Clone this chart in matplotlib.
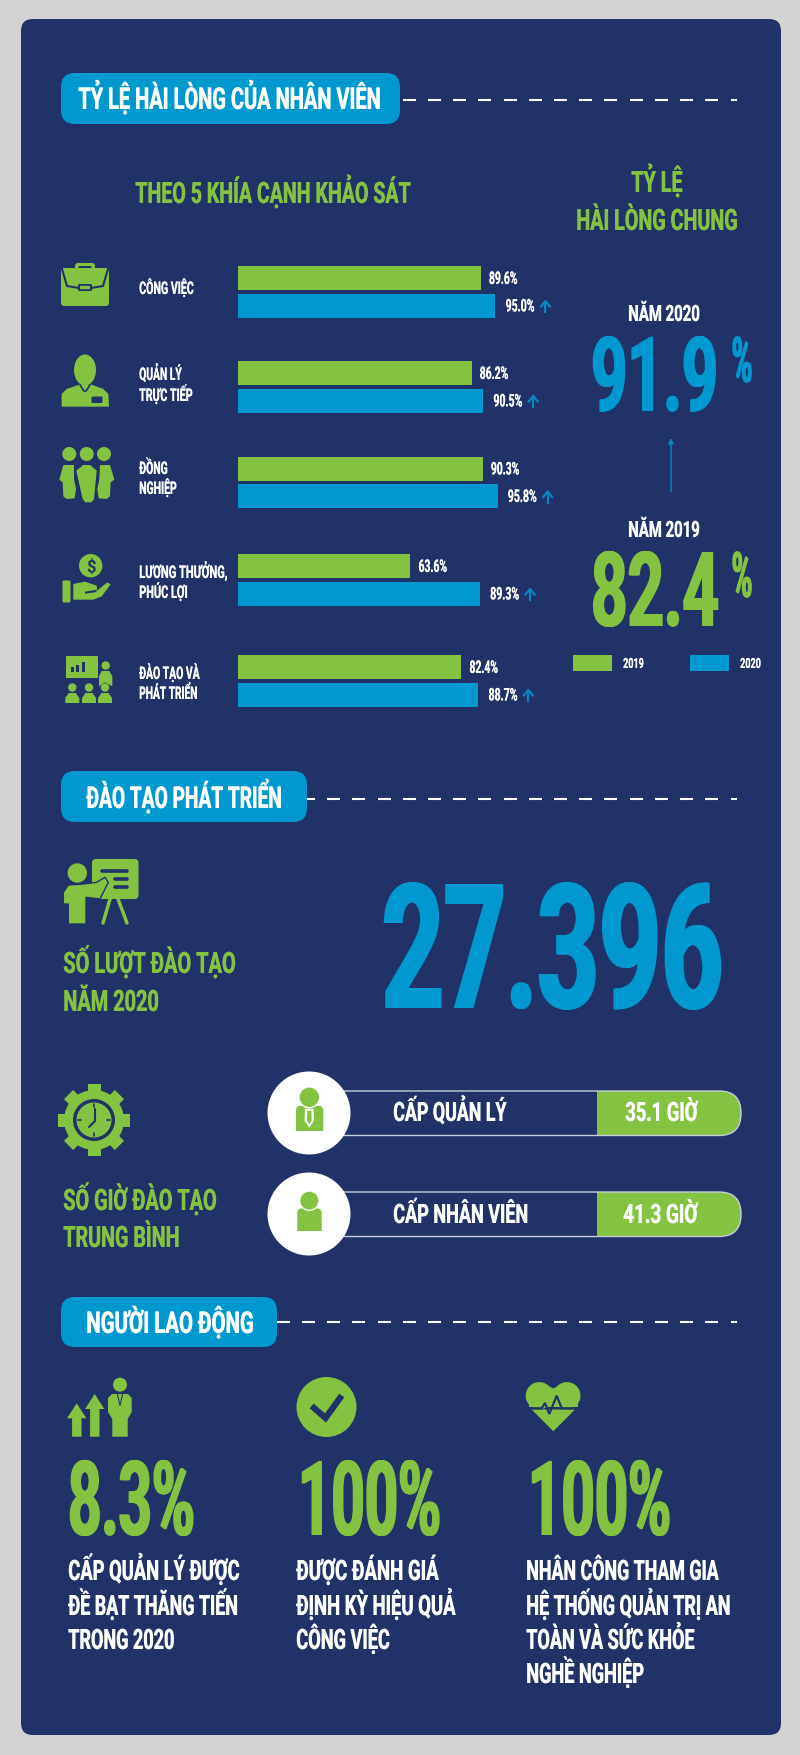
import numpy as np
import matplotlib
matplotlib.use("Agg")
import matplotlib.pyplot as plt
import matplotlib.patheffects as pe
from matplotlib.patches import FancyBboxPatch, Rectangle, Circle, Ellipse, Polygon
from matplotlib.transforms import Affine2D

# colours
GREY = "#d3d3d3"
NAVY = "#203268"
GREEN = "#84c341"
BLUE = "#0099cf"
ARROW = "#0a85c2"
WHITE = "#ffffff"

# data
years = ["2019", "2020"]
score_2019 = [89.6, 86.2, 90.3, 63.6, 82.4]
score_2020 = [95.0, 90.5, 95.8, 89.3, 88.7]
overall_2019 = "82.4"
overall_2020 = "91.9"
trainings = "27.396"
hours_levels = ["CẤP QUẢN LÝ", "CẤP NHÂN VIÊN"]
hours_values = ["35.1 GIỜ", "41.3 GIỜ"]
worker_stats = ["8.3%", "100%", "100%"]

# y centre of each green/blue pair of bars, pixels from the top
row_y = [293, 388, 483.5, 581, 682]

W, H = 800, 1756
fig = plt.figure(figsize=(W / 100, H / 100), dpi=100, facecolor=GREY)
ax = fig.add_axes([0, 0, 1, 1])
ax.set_xlim(0, W)
ax.set_ylim(H, 0)
ax.axis("off")


class TallText(pe.AbstractPathEffect):
    # the original font is much narrower and heavier than anything installed,
    # so the text is set to the right width and stretched up to the right height
    def __init__(self, sy, heavy):
        super().__init__()
        self.sy = sy
        self.heavy = heavy

    def draw_path(self, renderer, gc, tpath, affine, rgbFace=None):
        steps = int(np.ceil(self.heavy)) + 1
        for dx in np.linspace(-self.heavy / 2, self.heavy / 2, steps):
            renderer.draw_path(gc, tpath, Affine2D().scale(1, self.sy) + affine + Affine2D().translate(dx, 0),
                               rgbFace)


def label(s, x0, x1, base, cap, color=WHITE):
    # x0, x1 = left and right edge of the text, base = baseline, cap = cap height
    heavy = cap * 0.03
    size = cap / 0.711 * 0.72
    t = ax.text(x0 + heavy / 2, base, s, color=color, family=["Roboto", "DejaVu Sans"], weight="bold",
                fontsize=size, ha="left", va="baseline", zorder=5)
    natural = t.get_window_extent(fig.canvas.get_renderer()).width
    sx = (x1 - x0 - heavy) / natural
    t.set_fontsize(size * sx)
    t.set_path_effects([TallText(1 / sx, heavy)])
    return t


def header(s, x1, top, bottom, tx0, tx1, base, dash_y):
    ax.add_patch(FancyBboxPatch((61 + 14, top + 14), x1 - 61 - 28, bottom - top - 28,
                                boxstyle="round,pad=14", fc=BLUE, ec="none"))
    label(s, tx0, tx1, base, 21.5)
    for start in np.arange(730.5, x1 - 13, -25.2):
        ax.plot([max(start, x1), min(start + 13, 736.5)], [dash_y, dash_y], color=WHITE,
                lw=1.5, solid_capstyle="butt")


def poly(points, color=GREEN, **kw):
    ax.add_patch(Polygon(points, closed=True, fc=color, ec=kw.pop("ec", "none"), **kw))


def zoomed(points, x0, y0):
    return [(x / 3 + x0, y / 3 + y0) for x, y in points]


def round_box(x0, y0, x1, y1, r, color=GREEN):
    ax.add_patch(FancyBboxPatch((x0 + r, y0 + r), x1 - x0 - 2 * r, y1 - y0 - 2 * r,
                                boxstyle=f"round,pad={r}", fc=color, ec="none"))


def disc(x, y, r, color=GREEN):
    ax.add_patch(Circle((x, y), r, fc=color, ec="none"))


def stroke(xs, ys, lw, color=NAVY):
    ax.plot(xs, ys, color=color, lw=lw, solid_capstyle="round", solid_joinstyle="miter")


def icon_briefcase():
    round_box(75, 264, 95, 273, 3)
    round_box(78.5, 267, 91.5, 273, 1.5, NAVY)
    round_box(61, 269, 109, 307, 3)
    stroke([62, 67, 79], [270, 287, 289], 1.5)
    stroke([108, 103, 91], [270, 287, 289], 1.5)
    round_box(78, 285, 92, 292, 1.5, NAVY)
    round_box(80, 286.8, 90, 290.2, 0.8)


def icon_manager():
    ax.add_patch(Ellipse((85, 371), 22, 31, fc=GREEN, ec="none"))
    poly(zoomed([(35, 458), (35, 420), (50, 405), (88, 392), (125, 392), (160, 405),
                 (175, 420), (177, 458)], 50, 255))
    stroke([80, 84, 86, 90], [386, 392, 392, 386], 1.2)
    round_box(91.5, 397.5, 102.5, 404, 1, NAVY)


def icon_colleagues():
    for x in (69.3, 86.7, 104):
        disc(x, 455, 7)
    poly(zoomed([(79, 95), (100, 78), (120, 78), (140, 95), (132, 180), (124, 190), (106, 190),
                 (98, 180)], 50, 440))
    poly(zoomed([(40, 78), (72, 78), (72, 120), (78, 150), (74, 178), (50, 180), (40, 172),
                 (38, 130), (28, 122)], 50, 440))
    poly(zoomed([(150, 78), (180, 78), (193, 122), (182, 130), (180, 172), (170, 180), (146, 178),
                 (142, 150), (148, 120)], 50, 440))


def icon_hand():
    disc(90.7, 566.7, 11.7)
    ax.text(90.7, 567, "$", color=NAVY, fontsize=12, ha="center", va="center",
            family="Roboto", weight="bold", zorder=5)
    round_box(62.5, 581.5, 70.5, 603.5, 1.5)
    poly(zoomed([(70, 435), (105, 428), (140, 440), (142, 452), (105, 458), (105, 464), (135, 460),
                 (172, 430), (182, 436), (155, 472), (130, 482), (70, 482)], 50, 440))


def icon_training():
    poly(zoomed([(47, 652), (145, 652), (145, 716), (47, 716)], 50, 440))
    for x0, top in ((63, 685), (79, 678), (96, 668)):
        poly(zoomed([(x0, top), (x0 + 8, top), (x0 + 8, 698), (x0, 698)], 50, 440), NAVY)
    disc(105.7, 666.5, 4.2)
    poly(zoomed([(147, 712), (155, 696), (178, 696), (187, 712), (187, 742), (165, 730),
                 (147, 742)], 50, 440))
    for x in (72.3, 89, 105):
        disc(x, 688.5, 4.2)
        poly([(x - 7, 704), (x - 7, 699), (x - 3.5, 694), (x + 3.5, 694), (x + 7, 699),
              (x + 7, 704)])


def icon_presenter():
    disc(77.3, 874, 9.7)
    round_box(92, 860, 138.5, 900, 4)
    for x0, y in ((102, 871.5), (115, 879.5), (115, 888)):
        stroke([x0, 127], [y, y], 2.6)
    poly(zoomed([(40, 165), (40, 130), (55, 108), (100, 105), (140, 100), (165, 85), (175, 100),
                 (150, 150), (108, 145), (108, 225), (55, 225), (55, 165)], 50, 850), ec=NAVY, lw=1)
    stroke([110, 103], [900, 924], 2.5, GREEN)
    stroke([118, 127], [900, 924], 2.5, GREEN)


def icon_gear():
    angles = np.deg2rad(np.arange(0, 360, 45))
    for a in angles:
        x, y = 94 + 31 * np.cos(a), 1121 + 31 * np.sin(a)
        tooth = Rectangle((x - 6.5, y - 5), 13, 10, fc=GREEN, ec="none",
                          transform=Affine2D().rotate_around(x, y, a + np.pi / 2) + ax.transData)
        ax.add_patch(tooth)
    disc(94, 1121, 30)
    disc(94, 1121, 21, NAVY)
    disc(94, 1121, 17.5)
    for a in np.deg2rad(np.arange(0, 360, 90)):
        stroke([94 + 13 * np.cos(a), 94 + 16 * np.cos(a)], [1121 + 13 * np.sin(a), 1121 + 16 * np.sin(a)], 1.2)
    stroke([95, 95, 89], [1110, 1122, 1128], 1.5)


def icon_growth():
    for x, tip, neck in ((76.7, 1404.3, 1419.3), (94.7, 1395, 1410)):
        poly([(x, tip), (x + 9.7, neck), (x + 4.8, neck), (x + 4.8, 1437.7), (x - 4.6, 1437.7),
              (x - 4.6, neck), (x - 9.7, neck)])
    disc(120, 1385.7, 7)
    poly([(112, 1395), (128, 1395), (131.7, 1399), (131.7, 1413), (127.7, 1420), (127.7, 1437.7),
          (112.3, 1437.7), (112.3, 1420), (108, 1413), (108, 1399)])
    ax.plot([117.5, 120, 122.5], [1395.5, 1406.5, 1395.5], color=NAVY, lw=0.8)


def icon_check():
    disc(326.5, 1408, 30)
    ax.plot([314, 325.5, 340], [1409, 1419, 1399], color=NAVY, lw=4.5, solid_joinstyle="miter")


def icon_heart():
    disc(539.3, 1396.7, 13.6)
    disc(566.9, 1396.7, 13.6)
    poly([(529, 1399), (577.5, 1399), (577.5, 1407.5), (529, 1407.5)])
    poly([(553.3, 1389.5), (562, 1385), (562, 1400), (544, 1400), (544, 1385)])
    poly([(531.7, 1410.5), (575, 1410.5), (553.3, 1432.3)])
    ax.plot([524, 541.7, 545, 549.3, 556.7, 561.7, 582], [1409.3, 1409.3, 1404, 1415, 1396.7, 1409.3, 1409.3],
            color=NAVY, lw=1.6, solid_joinstyle="miter")


def icon_pill_person(head_y, head_r, top, bottom, x0, x1, tie):
    round_box(x0, top, x1, bottom + 6, 5)
    ax.add_patch(Rectangle((x0 - 1, bottom), x1 - x0 + 2, 7, fc=WHITE, ec="none"))
    disc(309.3, head_y, head_r + 1.3, WHITE)
    disc(309.3, head_y, head_r)
    if tie:
        poly([(305, top + 3), (313.6, top + 3), (314, bottom - 10), (309.3, bottom - 3), (304.6, bottom - 10)], WHITE)
        poly([(307.3, top + 5), (311.3, top + 5), (311.7, bottom - 10.5), (309.3, bottom - 6.5),
              (306.9, bottom - 10.5)])


# panel
ax.add_patch(FancyBboxPatch((33, 32), 736, 1692, boxstyle="round,pad=12", fc=NAVY, ec="none"))

header("TỶ LỆ HÀI LÒNG CỦA NHÂN VIÊN", 400, 74, 125, 78, 381, 110, 101)
header("ĐÀO TẠO PHÁT TRIỂN", 307, 772, 823, 86, 282, 809, 800)
header("NGƯỜI LAO ĐỘNG", 277, 1298, 1348, 86, 254, 1334, 1323)

label("THEO 5 KHÍA CẠNH KHẢO SÁT", 135, 411, 204, 21, GREEN)
label("TỶ LỆ", 631, 683, 193, 21, GREEN)
label("HÀI LÒNG CHUNG", 576, 738, 231, 21, GREEN)

# bars, x axis is the percentage, y stays in pixels so rows line up with the icons
ax_bar = fig.add_axes([238 / W, 0, 271 / W, 1])
ax_bar.set_xlim(0, 100)
ax_bar.set_ylim(H, 0)
ax_bar.axis("off")
ax_bar.patch.set_alpha(0)
ax_bar.barh([y - 14 for y in row_y], score_2019, height=24, color=GREEN)
ax_bar.barh([y + 13.5 for y in row_y], score_2020, height=24, color=BLUE)


def bar_end(value):
    return ax_bar.transData.transform((value, 0))[0]


for y, a, b in zip(row_y, score_2019, score_2020):
    x = bar_end(a) + 8
    label(f"{a}%", x, x + 29, y - 8, 12.5)
    x = bar_end(b) + 10
    label(f"{b}%", x, x + 29.5, y + 19.5, 12.5)
    up = bar_end(b) + 50
    ax.plot([up, up], [y + 9.5, y + 20], color=ARROW, lw=1.6)
    ax.plot([up - 4.5, up, up + 4.5], [y + 14.5, y + 9, y + 14.5], color=ARROW, lw=1.6)

# aspect names next to the bars
label("CÔNG VIỆC", 139, 194, 295, 12.5)
label("QUẢN LÝ", 139, 182, 381, 12.5)
label("TRỰC TIẾP", 139, 193, 402, 12.5)
label("ĐỒNG", 139, 168, 475, 12.5)
label("NGHIỆP", 139, 177, 495, 12.5)
label("LƯƠNG THƯỞNG,", 139, 228, 579, 12.5)
label("PHÚC LỢI", 139, 188, 599, 12.5)
label("ĐÀO TẠO VÀ", 139, 200, 680, 12.5)
label("PHÁT TRIỂN", 139, 198, 700, 12.5)

icon_briefcase()
icon_manager()
icon_colleagues()
icon_hand()
icon_training()

# overall score
label("NĂM 2020", 628, 700, 322, 16)
label(overall_2020, 590, 719, 412, 74, BLUE)
label("%", 731, 753, 383, 45, BLUE)
ax.annotate("", xy=(671, 439), xytext=(671, 493),
            arrowprops=dict(arrowstyle="-|>", color=ARROW, lw=1, mutation_scale=8, shrinkA=0, shrinkB=0))
label("NĂM 2019", 628, 700, 538, 16)
label(overall_2019, 590, 720, 627, 74, GREEN)
label("%", 731, 753, 598, 45, GREEN)

# legend
ax.add_patch(Rectangle((573, 656), 39, 16, fc=GREEN, ec="none"))
label(years[0], 623, 644, 669, 10)
ax.add_patch(Rectangle((690, 656), 39, 16, fc=BLUE, ec="none"))
label(years[1], 740, 761, 669, 10)

# training
icon_presenter()
label("SỐ LƯỢT ĐÀO TẠO", 63, 236, 974, 21, GREEN)
label("NĂM 2020", 63, 159, 1012, 21, GREEN)
label(trainings, 380, 725, 1009, 124, BLUE)

icon_gear()
label("SỐ GIỜ ĐÀO TẠO", 63, 217, 1211, 21, GREEN)
label("TRUNG BÌNH", 63, 180, 1248, 21, GREEN)

for top, name, name_x1, value, value_x0, base in zip((1092, 1193), hours_levels, (507, 529), hours_values,
                                                       (625, 623), (1122, 1224)):
    pill = FancyBboxPatch((331, top + 22), 388, 0.5, boxstyle="round,pad=22", fc=NAVY, ec="none")
    ax.add_patch(pill)
    green = Rectangle((597, top - 2), 150, 50, fc=GREEN, ec="none")
    ax.add_patch(green)
    green.set_clip_path(pill)
    ax.add_patch(FancyBboxPatch((331, top + 22), 388, 0.5, boxstyle="round,pad=22", fc="none",
                                ec="#c9cedb", lw=1))
    disc(309, top + 22, 41.5, WHITE)
    label(name, 393, name_x1, base, 19)
    label(value, value_x0, 698, base, 19)
icon_pill_person(1098.3, 9.7, 1106.7, 1131.7, 296, 323.3, True)
icon_pill_person(1201.7, 9, 1209.3, 1231.7, 297.3, 321.7, False)

# workers
icon_growth()
icon_check()
icon_heart()
label(worker_stats[0], 67, 196, 1536, 74, GREEN)
label(worker_stats[1], 297, 442, 1536, 74, GREEN)
label(worker_stats[2], 527, 672, 1536, 74, GREEN)

baselines = [1581, 1616, 1650, 1684]
label("CẤP QUẢN LÝ ĐƯỢC", 68, 240, baselines[0], 20)
label("ĐỀ BẠT THĂNG TIẾN", 68, 238, baselines[1], 20)
label("TRONG 2020", 68, 175, baselines[2], 20)
label("ĐƯỢC ĐÁNH GIÁ", 296, 439, baselines[0], 20)
label("ĐỊNH KỲ HIỆU QUẢ", 296, 456, baselines[1], 20)
label("CÔNG VIỆC", 296, 390, baselines[2], 20)
label("NHÂN CÔNG THAM GIA", 526, 719, baselines[0], 20)
label("HỆ THỐNG QUẢN TRỊ AN", 526, 731, baselines[1], 20)
label("TOÀN VÀ SỨC KHỎE", 526, 695, baselines[2], 20)
label("NGHỀ NGHIỆP", 526, 644, baselines[3], 20)

plt.savefig("out.png", dpi=100, facecolor=GREY)
